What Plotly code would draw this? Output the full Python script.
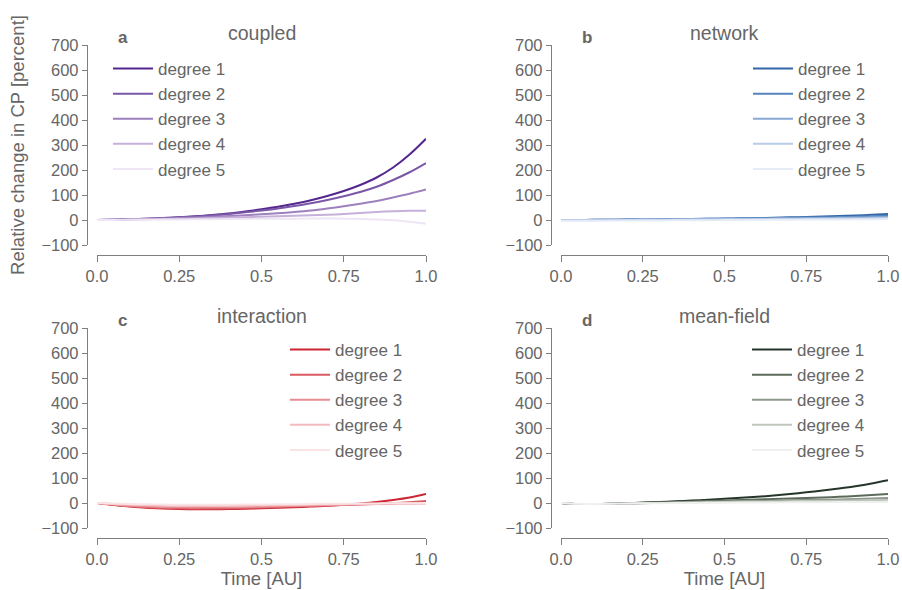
import plotly.graph_objects as go

# ---- data ----
time = [0.0, 0.05, 0.1, 0.15, 0.2, 0.25, 0.3, 0.35, 0.4, 0.45, 0.5,
        0.55, 0.6, 0.65, 0.7, 0.75, 0.8, 0.85, 0.9, 0.95, 1.0]
degrees = ["degree 1", "degree 2", "degree 3", "degree 4", "degree 5"]
panel_titles = ["coupled", "network", "interaction", "mean-field"]
panel_letters = ["a", "b", "c", "d"]

coupled = [
    [0, 1, 3, 5, 8, 11, 15, 20, 26, 34, 43, 53, 65, 79, 96, 116, 140, 170, 210, 262, 325],
    [0, 1, 3, 5, 8, 11, 14, 19, 24, 31, 38, 46, 56, 67, 80, 95, 112, 133, 160, 191, 228],
    [0, 1, 2, 4, 6, 8, 10, 13, 16, 19, 23, 27, 32, 38, 46, 55, 65, 76, 90, 105, 122],
    [0, 1, 2, 3, 4, 5, 6, 8, 10, 11, 13, 15, 17, 19, 21, 24, 28, 32, 35, 37, 37],
    [0, 0, 1, 1, 2, 2, 3, 3, 4, 4, 5, 5, 5, 6, 6, 5, 4, 2, -1, -7, -15],
]
network = [
    [0, 0, 1, 1, 2, 2, 3, 3, 4, 5, 6, 7, 8, 9, 11, 12, 14, 16, 18, 21, 24],
    [0, 0, 1, 1, 2, 2, 3, 3, 4, 5, 5, 6, 7, 8, 9, 10, 11, 12, 13, 15, 17],
    [0, 0, 0, 1, 1, 2, 2, 3, 3, 4, 4, 5, 5, 6, 7, 7, 8, 9, 10, 11, 12],
    [-1, -1, -1, 0, 0, 1, 1, 1, 2, 2, 3, 3, 3, 4, 4, 5, 5, 6, 6, 7, 8],
    [-3, -3, -3, -3, -2, -2, -2, -1, -1, -1, 0, 0, 1, 1, 1, 2, 2, 2, 3, 3, 4],
]
interaction = [
    [0, -8, -14, -19, -22, -24, -25, -25, -24, -23, -21, -19, -17, -14, -11, -7, -2, 4, 12, 22, 36],
    [0, -7, -13, -17, -20, -21, -22, -22, -21, -20, -18, -16, -14, -12, -10, -8, -6, -4, -1, 3, 8],
    [0, -6, -11, -14, -16, -17, -18, -17, -17, -16, -15, -13, -12, -10, -8, -7, -5, -4, -3, -2, -1],
    [0, -4, -7, -9, -11, -12, -12, -12, -12, -11, -10, -9, -8, -7, -6, -5, -4, -3, -2, -2, -1],
    [0, -2, -4, -5, -6, -7, -7, -7, -7, -6, -6, -5, -5, -4, -3, -3, -2, -2, -1, -1, 0],
]
mean_field = [
    [0, -4, -4, -3, -1, 2, 4, 7, 10, 13, 17, 21, 25, 30, 36, 43, 50, 58, 67, 78, 91],
    [0, -4, -4, -3, -2, 0, 2, 4, 6, 8, 10, 12, 14, 16, 18, 20, 22, 25, 28, 32, 36],
    [0, -4, -4, -3, -2, -1, 1, 2, 4, 5, 6, 7, 8, 9, 11, 12, 13, 14, 16, 18, 20],
    [0, -4, -4, -3, -2, -1, 0, 1, 2, 3, 4, 5, 5, 6, 7, 8, 8, 9, 10, 11, 12],
    [0, -3, -4, -3, -2, -1, -1, 0, 0, 1, 1, 2, 2, 2, 3, 3, 3, 4, 4, 4, 5],
]

x_tickvals = [0.0, 0.25, 0.5, 0.75, 1.0]
x_ticktext = ["0.0", "0.25", "0.5", "0.75", "1.0"]
y_tickvals = [-100, 0, 100, 200, 300, 400, 500, 600, 700]
y_ticktext = ["\u2212100", "0", "100", "200", "300", "400", "500", "600", "700"]

# ---- styles ----
colors = [
    ["#54278f", "#7a57a6", "#9d80bd", "#c5b0da", "#eee6f4"],
    ["#3366a8", "#5683bd", "#89a9d4", "#b8cbe7", "#e5ecf7"],
    ["#cc2533", "#da5a62", "#e78d92", "#f2bbbf", "#fae3e5"],
    ["#26352a", "#5d6a5b", "#8f998c", "#bfc6bd", "#eef0ed"],
]
all_data = [coupled, network, interaction, mean_field]

W, H = 902, 590
TXT = "#666666"
AX = "#7f7f7f"
FONT = "Liberation Sans, Arial, sans-serif"

# panel pixel geometry
x_px = [(97, 426), (561, 888), (97, 426), (561, 888)]
y_px = [(45, 245), (45, 245), (328, 528), (328, 528)]
yaxis_px = [87, 551, 87, 551]
xaxis_px = [255, 255, 538, 538]
legend_px = [(108, 51), (748, 51), (285, 332), (747, 332)]

fig = go.Figure()
for p in range(4):
    sfx = "" if p == 0 else str(p + 1)
    leg = "legend" if p == 0 else "legend" + str(p + 1)
    for d in range(5):
        fig.add_trace(go.Scatter(
            x=time, y=all_data[p][d], mode="lines", name=degrees[d],
            line=dict(color=colors[p][d], width=2, shape="spline", smoothing=0.8),
            xaxis="x" + sfx, yaxis="y" + sfx, legend=leg,
            legendgroup=f"p{p}d{d}", showlegend=True,
        ))

layout = dict(
    width=W, height=H, margin=dict(l=0, r=0, t=0, b=0, autoexpand=False),
    paper_bgcolor="white", plot_bgcolor="white",
    font=dict(family=FONT, color=TXT, size=17),
    annotations=[],
)
for p in range(4):
    sfx = "" if p == 0 else str(p + 1)
    x0, x1 = x_px[p]
    yt, yb = y_px[p]
    xa = dict(
        domain=[x0 / W, x1 / W], range=[0, 1], anchor="free",
        position=1 - xaxis_px[p] / H,
        showline=True, linecolor=AX, linewidth=1.3, showgrid=False, zeroline=False,
        ticks="outside", ticklen=6, tickcolor=AX, tickwidth=1.3,
        tickvals=x_tickvals, ticktext=x_ticktext,
        tickfont=dict(size=16.5, color=TXT, family=FONT),
    )
    ya = dict(
        domain=[1 - yb / H, 1 - yt / H], range=[-100, 700], anchor="free",
        position=yaxis_px[p] / W,
        showline=True, linecolor=AX, linewidth=1.3, showgrid=False, zeroline=False,
        ticks="outside", ticklen=5, tickcolor=AX, tickwidth=1.3,
        tickvals=y_tickvals, ticktext=y_ticktext,
        tickfont=dict(size=16.5, color=TXT, family=FONT),
    )
    if p >= 2:
        xa["title"] = dict(text="Time [AU]", font=dict(size=18.5, color=TXT, family=FONT), standoff=4)
    if p == 0:
        ya["title"] = dict(text="Relative change in CP [percent]", font=dict(size=18.5, color=TXT, family=FONT), standoff=10)
    layout["xaxis" + sfx] = xa
    layout["yaxis" + sfx] = ya
    lx, ly = legend_px[p]
    layout["legend" if p == 0 else "legend" + str(p + 1)] = dict(
        x=lx / W, y=1 - ly / H, xanchor="left", yanchor="top",
        xref="paper", yref="paper", bgcolor="rgba(0,0,0,0)",
        font=dict(size=17, color=TXT, family=FONT), tracegroupgap=0,
        itemwidth=40, itemclick=False, itemdoubleclick=False,
    )
    layout["annotations"].append(dict(
        text=panel_titles[p], x=(x0 + x1) / 2 / W, y=1 - (yt - 12) / H,
        xref="paper", yref="paper", showarrow=False, xanchor="center", yanchor="middle",
        font=dict(size=19.5, color=TXT, family=FONT),
    ))
    layout["annotations"].append(dict(
        text="<b>" + panel_letters[p] + "</b>", x=(x0 + 26) / W, y=1 - (yt - 8) / H,
        xref="paper", yref="paper", showarrow=False, xanchor="center", yanchor="middle",
        font=dict(size=17, color=TXT, family=FONT),
    ))

fig.update_layout(**layout)
fig.write_html(
    "out.html",
    config={"displayModeBar": False},
    post_script="document.body.style.margin='0';document.body.style.padding='0';",
)
